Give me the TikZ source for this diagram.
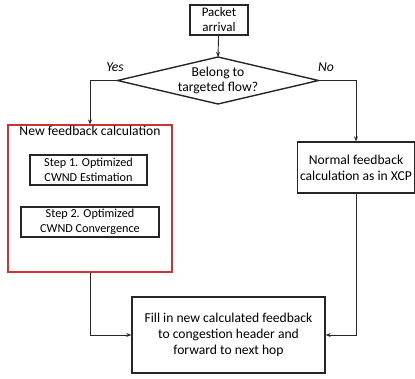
\documentclass[tikz,border=0pt]{standalone}
\usepackage{fontspec}
\setmainfont{Carlito}
\usetikzlibrary{arrows.meta}
\begin{document}
\begin{tikzpicture}
[x=1pt,y=-1pt,font=\fontsize{13.6}{16}\selectfont,
  flowbox/.style={shape=rectangle,draw=black!85,line width=1.4pt,align=center,inner sep=1pt},%
  stepbox/.style={shape=rectangle,draw=black!85,line width=1.3pt,align=center,inner sep=1pt,font=\fontsize{12.2}{15}\selectfont},
  groupbox/.style={shape=rectangle,draw=red!75!black!80,line width=1.1pt},
  choiceline/.style={draw=black!85,line width=1.4pt,line join=miter},
  arrowline/.style={-{Stealth[length=5pt,width=4pt]},line width=0.9pt,color=black!85}]
\useasboundingbox (0,0) rectangle (415,378);
% nodes or vertices
% top of the chart
\node (arrival) at (219,20) [flowbox,inner sep=0pt,font=\fontsize{13}{15}\selectfont,minimum width=58pt,minimum height=30pt] {Packet\\arrival};
% decision diamond
\coordinate (dtop) at (218,57);
\coordinate (dright) at (318.5,80.5);
\coordinate (dbottom) at (218,104);
\coordinate (dleft) at (117.5,80.5);
\draw[choiceline] (dtop) -- (dright) -- (dbottom) -- (dleft) -- cycle;
\node (decision) at (218,80.5) [align=center,font=\fontsize{13.6}{15}\selectfont] {Belong to\\targeted flow?};
\node (yes) at (115,67) {\itshape Yes};
\node (no) at (326,67) {\itshape No};
% targeted flow branch
\node (newcalc) at (90,198.5) [groupbox,minimum width=164pt,minimum height=147pt] {};
\node (newtitle) at (90,131) {New feedback calculation};
\node (step1) at (88.5,170) [stepbox,minimum width=117pt,minimum height=30pt] {Step 1. Optimized\\CWND Estimation};
\node (step2) at (90,222) [stepbox,minimum width=138pt,minimum height=30pt] {Step 2. Optimized\\CWND Convergence};
% other flow branch
\node (normal) at (356,167.5) [flowbox,minimum width=117pt,minimum height=51pt] {Normal feedback\\calculation as in XCP};
% bottom of the chart
\node (fill) at (228.5,335) [flowbox,minimum width=193pt,minimum height=76pt] {Fill in new calculated feedback\\to congestion header and\\forward to next hop};
% edges or lines
\draw[arrowline] (arrival) -- (dtop);
\draw[arrowline] (dleft) -| (newcalc.north);
\draw[arrowline] (dright) -| (normal.north);
\draw[arrowline] (newcalc.south) |- (fill.west);
\draw[arrowline] (normal.south) |- (fill.east);
\end{tikzpicture}
\end{document}
